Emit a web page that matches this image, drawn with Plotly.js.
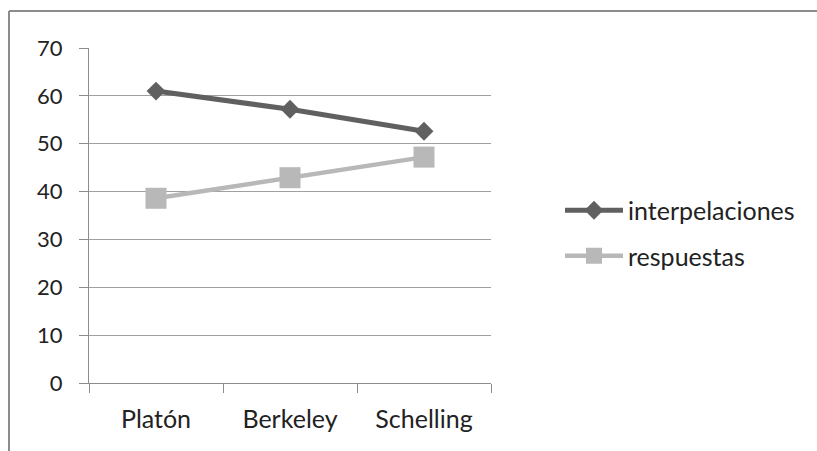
<!DOCTYPE html>
<html>
<head>
<meta charset="utf-8">
<script src="https://cdn.plot.ly/plotly-3.0.1.min.js"></script>
<style>html,body{margin:0;padding:0;background:#fff;}#chart{width:817px;height:451px;}</style>
</head>
<body>
<div id="chart"></div>
<script>
const categories = ["Platón", "Berkeley", "Schelling"];
const interpelaciones = [61.0, 57.2, 52.6];
const respuestas = [38.6, 42.9, 47.2];
const yTicks = [0, 10, 20, 30, 40, 50, 60, 70];

const plotLeft = 89, plotRight = 491, plotTop = 48, plotBottom = 383;
const W = 817, H = 451;
const pw = plotRight - plotLeft, ph = plotBottom - plotTop;
const px = v => (v - plotLeft) / pw;
const py = v => (plotBottom - v) / ph;

const font = "Lato, 'Liberation Sans', sans-serif";

const traces = [
  {
    x: categories, y: interpelaciones, name: "interpelaciones", type: "scatter", mode: "lines+markers",
    legendgroup: "a",
    line: {color: "#606060", width: 5},
    marker: {symbol: "diamond", size: 14.5, color: "#606060"}
  },
  {
    x: categories, y: respuestas, name: "respuestas", type: "scatter", mode: "lines+markers",
    legendgroup: "b",
    line: {color: "#b8b8b8", width: 4.5},
    marker: {symbol: "square", size: 21, color: "#b8b8b8"}
  }
];

const layout = {
  width: W, height: H,
  margin: {l: plotLeft, r: W - plotRight, t: plotTop, b: H - plotBottom, pad: 0},
  paper_bgcolor: "#ffffff", plot_bgcolor: "#ffffff",
  font: {family: font, size: 22, color: "#222222"},
  showlegend: true,
  legend: {
    x: px(560), y: py(233), xanchor: "left", yanchor: "middle",
    font: {family: font, size: 25, color: "#222222"},
    itemwidth: 58, tracegroupgap: 10, bgcolor: "rgba(0,0,0,0)"
  },
  xaxis: {
    type: "category", tickvals: categories, ticktext: categories,
    range: [-0.5, 2.5],
    tickson: "boundaries", ticks: "outside", ticklen: 9, tickcolor: "#8c8c8c", tickwidth: 1,
    showline: true, linecolor: "#8c8c8c", linewidth: 1,
    showgrid: false, zeroline: false,
    tickfont: {family: font, size: 25, color: "#222222"},
    ticklabelstandoff: 14,
    fixedrange: true
  },
  yaxis: {
    range: [0, 70], tickvals: yTicks, ticktext: yTicks.map(String),
    ticks: "outside", ticklen: 9, tickcolor: "#8c8c8c", tickwidth: 1,
    showline: true, linecolor: "#8c8c8c", linewidth: 1,
    showgrid: true, gridcolor: "#a0a0a0", gridwidth: 1, zeroline: false,
    tickfont: {family: font, size: 22, color: "#222222"},
    ticklabelstandoff: 12,
    fixedrange: true
  },
  shapes: [
    {type: "line", xref: "paper", yref: "paper", x0: px(9), x1: px(9), y0: py(11), y1: py(460), line: {color: "#8c8c8c", width: 2}},
    {type: "line", xref: "paper", yref: "paper", x0: px(9), x1: px(830), y0: py(11), y1: py(11), line: {color: "#8c8c8c", width: 2}}
  ]
};

Plotly.newPlot("chart", traces, layout, {displayModeBar: false, staticPlot: true});
</script>
</body>
</html>
